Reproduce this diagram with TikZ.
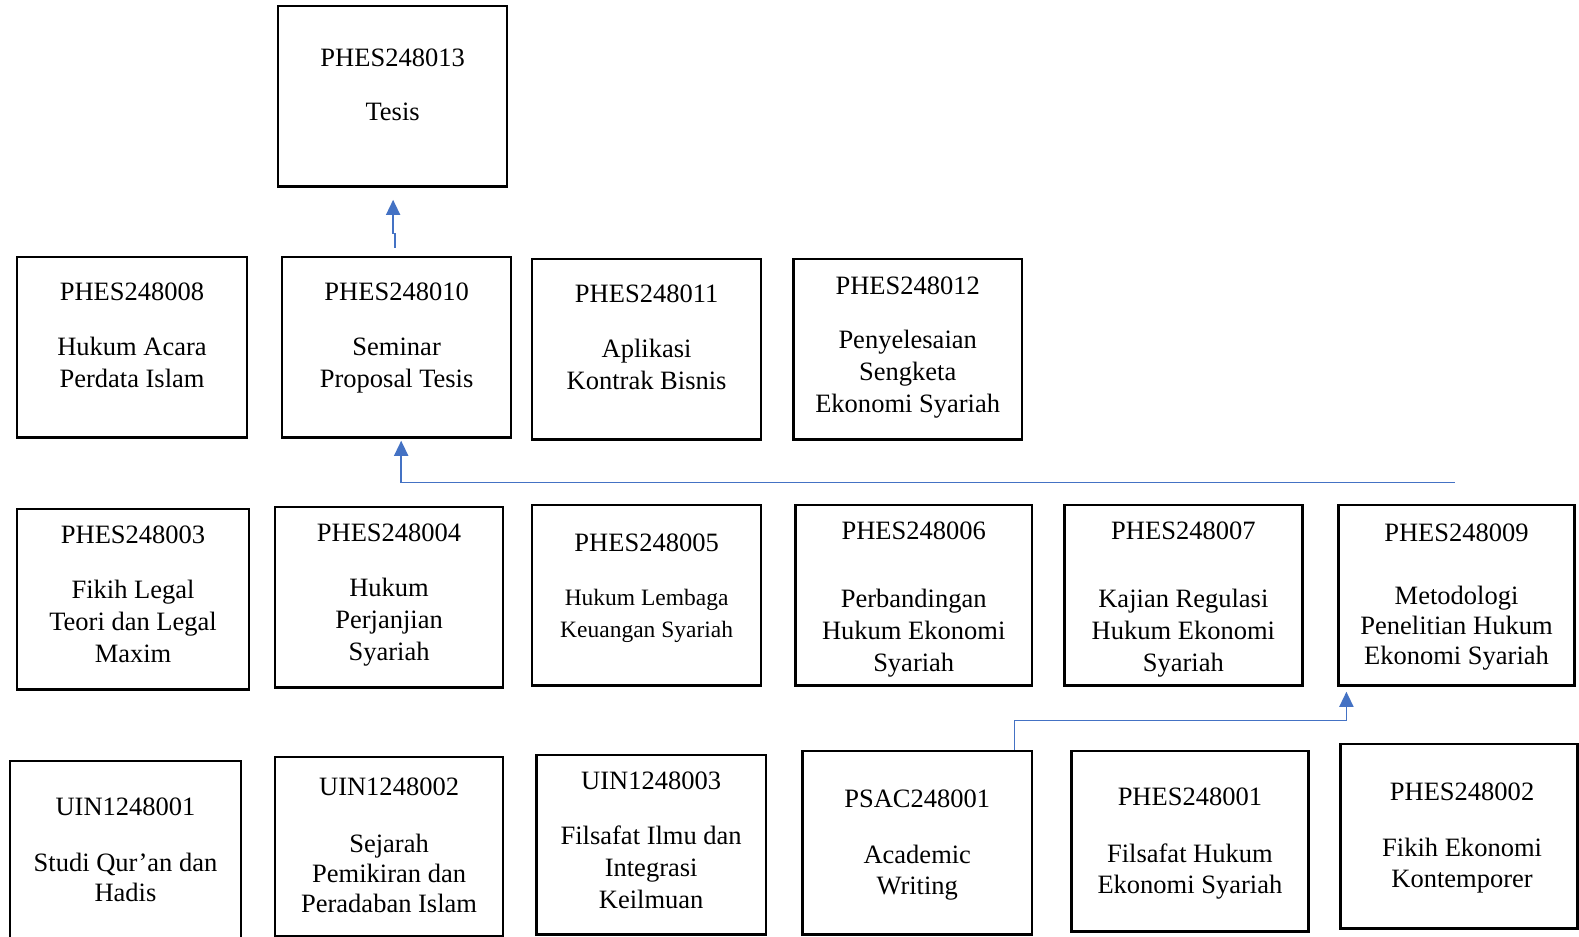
\documentclass[tikz,border=0pt]{standalone}
\usepackage{fontspec}
\setmainfont{Liberation Serif}
\usetikzlibrary{positioning,arrows.meta}
\definecolor{linkblue}{RGB}{68,114,196}
\newcommand{\smallline}{\fontsize{23.3}{30}\selectfont}

\begin{document}
\begin{tikzpicture}[x=1pt,y=-1pt,
    box/.style={draw=black, line width=2.5pt, inner sep=0pt},
    txt/.style={align=center, inner sep=0pt, font=\fontsize{26.3}{32}\selectfont},
    link/.style={draw=linkblue, line width=1.5pt, -{Triangle[width=14pt,length=15pt]}}]
\useasboundingbox (0,0) rectangle (1566.5,928.6);
\fill[white] (0,0) rectangle (1566.5,928.6);

% semester 4
\node[box, minimum width=227pt, minimum height=179pt] (b013) at (389.5,95.5) {};
\node[txt, below=44pt of b013.north] (t013) {PHES248013\\[21pt]Tesis};

% semester 3
\node[box, minimum width=228pt, minimum height=179pt] (b008) at (131,344.5) {};
\node[txt, below=27pt of b008.north] (t008) {PHES248008\\[22pt]Hukum Acara\\Perdata Islam};
\node[box, minimum width=227pt, minimum height=179pt] (b010) at (393.5,344.5) {};
\node[txt, below=27pt of b010.north] (t010) {PHES248010\\[22pt]Seminar\\Proposal Tesis};
\node[box, minimum width=227pt, minimum height=179pt] (b011) at (641.5,346.5) {};
\node[txt, below=27pt of b011.north] (t011) {PHES248011\\[22pt]Aplikasi\\Kontrak Bisnis};
\node[box, minimum width=227pt, minimum height=179pt] (b012) at (900.5,346.5) {};
\node[txt, below=19pt of b012.north] (t012) {PHES248012\\[21pt]Penyelesaian\\Sengketa\\Ekonomi Syariah};

% semester 2
\node[box, minimum width=230pt, minimum height=179pt] (b003) at (132,594.5) {};
\node[txt, below=18pt of b003.north] (t003) {PHES248003\\[22pt]Fikih Legal\\Teori dan Legal\\Maxim};
\node[box, minimum width=226pt, minimum height=179pt] (b004) at (386,592.5) {};
\node[txt, below=18pt of b004.north] (t004) {PHES248004\\[22pt]Hukum\\Perjanjian\\Syariah};
\node[box, minimum width=227pt, minimum height=179pt] (b005) at (641.5,590.5) {};
\node[txt, below=30pt of b005.north] (t005) {PHES248005\\[21pt]\smallline Hukum Lembaga\\\smallline Keuangan Syariah};
\node[box, minimum width=235pt, minimum height=179pt] (b006) at (906.5,590.5) {};
\node[txt, below=18pt of b006.north] (t006) {PHES248006\\[35pt]Perbandingan\\Hukum Ekonomi\\Syariah};
\node[box, minimum width=236pt, minimum height=179pt] (b007) at (1174,590.5) {};
\node[txt, below=18pt of b007.north] (t007) {PHES248007\\[35pt]Kajian Regulasi\\Hukum Ekonomi\\Syariah};
\node[box, minimum width=234pt, minimum height=179pt] (b009) at (1445,590.5) {};
\node[txt, font=\fontsize{26.3}{30}\selectfont, below=20pt of b009.north] (t009) {PHES248009\\[32pt]Metodologi\\Penelitian Hukum\\Ekonomi Syariah};

% semester 1
\node[box, minimum width=229pt, minimum height=205pt] (u001) at (124.5,857.5) {};
\node[txt, font=\fontsize{26.3}{30}\selectfont, below=38pt of u001.north] (tu001) {UIN1248001\\[25pt]Studi Qur’an dan\\Hadis};
\node[box, minimum width=226pt, minimum height=178pt] (u002) at (386,840) {};
\node[txt, font=\fontsize{26.3}{30}\selectfont, below=22pt of u002.north] (tu002) {UIN1248002\\[26pt]Sejarah\\Pemikiran dan\\Peradaban Islam};
\node[box, minimum width=228pt, minimum height=178pt] (u003) at (646,838) {};
\node[txt, below=18pt of u003.north] (tu003) {UIN1248003\\[22pt]Filsafat Ilmu dan\\Integrasi\\Keilmuan};
\node[box, minimum width=228pt, minimum height=182pt] (psac) at (910,836) {};
\node[txt, font=\fontsize{26.3}{31}\selectfont, below=40pt of psac.north] (tpsac) {PSAC248001\\[24pt]Academic\\Writing};
\node[box, minimum width=235pt, minimum height=179pt] (b001) at (1180.5,834.5) {};
\node[txt, font=\fontsize{26.3}{31}\selectfont, below=38pt of b001.north] (t001) {PHES248001\\[25pt]Filsafat Hukum\\Ekonomi Syariah};
\node[box, minimum width=235pt, minimum height=183pt] (b002) at (1447.5,829.5) {};
\node[txt, font=\fontsize{26.3}{31}\selectfont, below=40pt of b002.north, xshift=3pt] (t002) {PHES248002\\[24pt]Fikih Ekonomi\\Kontemporer};

% prasyarat
\draw[link] ([xshift=-1.5pt,yshift=8pt]b010.north) -- ++(0,-14) -| ([xshift=0.5pt,yshift=-12pt]b013.south);
\draw[link] ([xshift=-2pt,yshift=21pt]b009.north) -| ([xshift=4.5pt,yshift=-2pt]b010.south);
\draw[link] ([xshift=-19pt]psac.north east) -- ++(0,-29) -| ([xshift=9pt,yshift=-5pt]b009.south west);
\end{tikzpicture}
\end{document}
